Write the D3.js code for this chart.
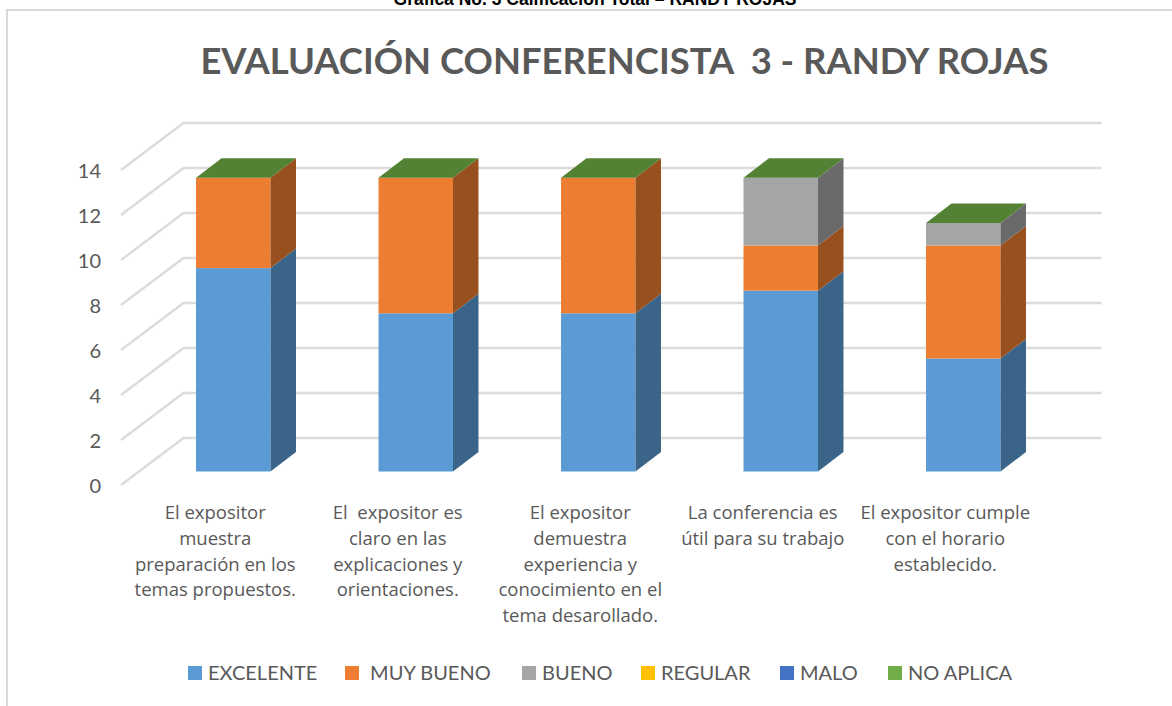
<!DOCTYPE html>
<html>
<head>
<meta charset="utf-8">
<script src="https://cdn.jsdelivr.net/npm/d3@7"></script>
<style>
  html, body { margin: 0; padding: 0; background: #fff; }
  svg { display: block; }
  text { font-family: Lato, sans-serif; fill: #595959; white-space: pre; }
</style>
</head>
<body>
<svg width="1172" height="706"></svg>
<script>
const categories = [
  ["El expositor", "muestra", "preparación en los", "temas propuestos."],
  ["El  expositor es", "claro en las", "explicaciones y", "orientaciones."],
  ["El expositor", "demuestra", "experiencia y", "conocimiento en el", "tema desarollado."],
  ["La conferencia es", "útil para su trabajo"],
  ["El expositor cumple", "con el horario", "establecido."]
];
const seriesNames = ["EXCELENTE", " MUY BUENO", "BUENO", "REGULAR", "MALO", "NO APLICA"];
const excelente = [9, 7, 7, 8, 5];
const muyBueno = [4, 6, 6, 2, 5];
const bueno = [0, 0, 0, 3, 1];
const regular = [0, 0, 0, 0, 0];
const malo = [0, 0, 0, 0, 0];
const noAplica = [0, 0, 0, 0, 0];
const yTicks = [0, 2, 4, 6, 8, 10, 12, 14];
const frontColors = ["#5b9bd5", "#ed7d31", "#a5a5a5", "#ffc000", "#4472c4", "#70ad47"];
const sideColors = ["#3a6589", "#98501f", "#6a6a6a", "#a37b00", "#2c4a7e", "#55832f"];
const topColor = "#548235";

const svg = d3.select("svg");

// chart frame, only left and top are in the picture
svg.append("path")
  .attr("d", "M7,706V10H1172")
  .attr("fill", "none")
  .attr("stroke", "#d9d9d9")
  .attr("stroke-width", 2);

// caption of the page above the chart, cut by the top edge like the reference
svg.append("text")
  .attr("x", 595)
  .attr("y", 5)
  .attr("text-anchor", "middle")
  .style("font-family", "'Liberation Sans', Arial, sans-serif")
  .style("font-size", "17.5px")
  .style("font-weight", "bold")
  .style("fill", "#000")
  .text("Gráfica No. 3 Calificación Total – RANDY ROJAS");

svg.append("text")
  .attr("x", 624.5)
  .attr("y", 74)
  .attr("text-anchor", "middle")
  .style("font-size", "36.4px")
  .style("font-weight", "bold")
  .text("EVALUACIÓN CONFERENCISTA  3 - RANDY ROJAS");

// three planes of the fake 3d box: axis edge, bar front, back wall
const yAxisEdge = d3.scaleLinear().domain([0, 14]).range([485, 170]);
const yFront = d3.scaleLinear().domain([0, 14]).range([471.5, 155.1]);
const yBack = d3.scaleLinear().domain([0, 14]).range([438, 123]);

const x = d3.scaleBand()
  .domain(d3.range(categories.length))
  .range([142, 1054.5])
  .paddingInner(0.592)
  .paddingOuter(0.296);

const depthX = 25.5;
const depthY = 19.5;
const backLeft = 183.5;
const backRight = 1101.5;
const edgeLeft = 121;
const labelShift = -18;

const grid = svg.append("g")
  .attr("fill", "none")
  .attr("stroke", "#dcdcdc")
  .attr("stroke-width", 2.5);

grid.selectAll("path")
  .data(yTicks)
  .enter()
  .append("path")
  .attr("d", function (d) {
    return d3.line()([[edgeLeft, yAxisEdge(d)], [backLeft, yBack(d)], [backRight, yBack(d)]]);
  });

svg.append("g")
  .attr("transform", "translate(101,1)")
  .call(d3.axisLeft(yAxisEdge).tickValues(yTicks).tickSize(0).tickPadding(0))
  .call(function (g) { g.select(".domain").remove(); })
  .call(function (g) {
    g.selectAll("text")
      .style("font-family", "Lato, sans-serif")
      .style("font-size", "20px")
      .style("fill", "#595959");
  });

// stacks
const table = categories.map(function (c, i) {
  return {
    i: i,
    s0: excelente[i], s1: muyBueno[i], s2: bueno[i],
    s3: regular[i], s4: malo[i], s5: noAplica[i]
  };
});
const stacked = d3.stack().keys(["s0", "s1", "s2", "s3", "s4", "s5"])(table);

const bars = svg.append("g");

stacked.forEach(function (layer, k) {
  layer.forEach(function (d, i) {
    if (d[1] === d[0]) return;
    const x0 = x(i);
    const x1 = x0 + x.bandwidth();
    bars.append("rect")
      .attr("x", x0)
      .attr("y", yFront(d[1]))
      .attr("width", x.bandwidth())
      .attr("height", yFront(d[0]) - yFront(d[1]))
      .attr("fill", frontColors[k]);
    bars.append("path")
      .attr("d", d3.line()([
        [x1, yFront(d[0])],
        [x1 + depthX, yFront(d[0]) - depthY],
        [x1 + depthX, yFront(d[1]) - depthY],
        [x1, yFront(d[1])]
      ]) + "Z")
      .attr("fill", sideColors[k]);
  });
});

// green lid on top of each stack
bars.selectAll(".lid")
  .data(table)
  .enter()
  .append("path")
  .attr("class", "lid")
  .attr("fill", topColor)
  .attr("d", function (d, i) {
    const top = yFront(stacked[5][i][1]);
    const x0 = x(i);
    const x1 = x0 + x.bandwidth();
    return d3.line()([
      [x0, top],
      [x0 + depthX, top - depthY],
      [x1 + depthX, top - depthY],
      [x1, top]
    ]) + "Z";
  });

// category labels
const labels = svg.append("g");
categories.forEach(function (lines, i) {
  labels.append("text")
    .attr("text-anchor", "middle")
    .style("font-family", "'Open Sans', sans-serif")
    .style("font-size", "18.5px")
    .selectAll("tspan")
    .data(lines)
    .enter()
    .append("tspan")
    .attr("x", x(i) + x.bandwidth() / 2 + labelShift)
    .attr("y", function (d, j) { return 519 + j * 25.8; })
    .text(function (d) { return d; });
});

// legend
const legendX = [188, 345, 522, 641, 780, 888];
const legend = svg.append("g")
  .selectAll("g")
  .data(seriesNames)
  .enter()
  .append("g")
  .attr("transform", function (d, i) { return "translate(" + legendX[i] + ",666)"; });

legend.append("rect")
  .attr("width", 14)
  .attr("height", 14)
  .attr("fill", function (d, i) { return frontColors[i]; });

legend.append("text")
  .attr("x", 20)
  .attr("y", 14)
  .style("font-size", "20px")
  .text(function (d) { return d; });
</script>
</body>
</html>
